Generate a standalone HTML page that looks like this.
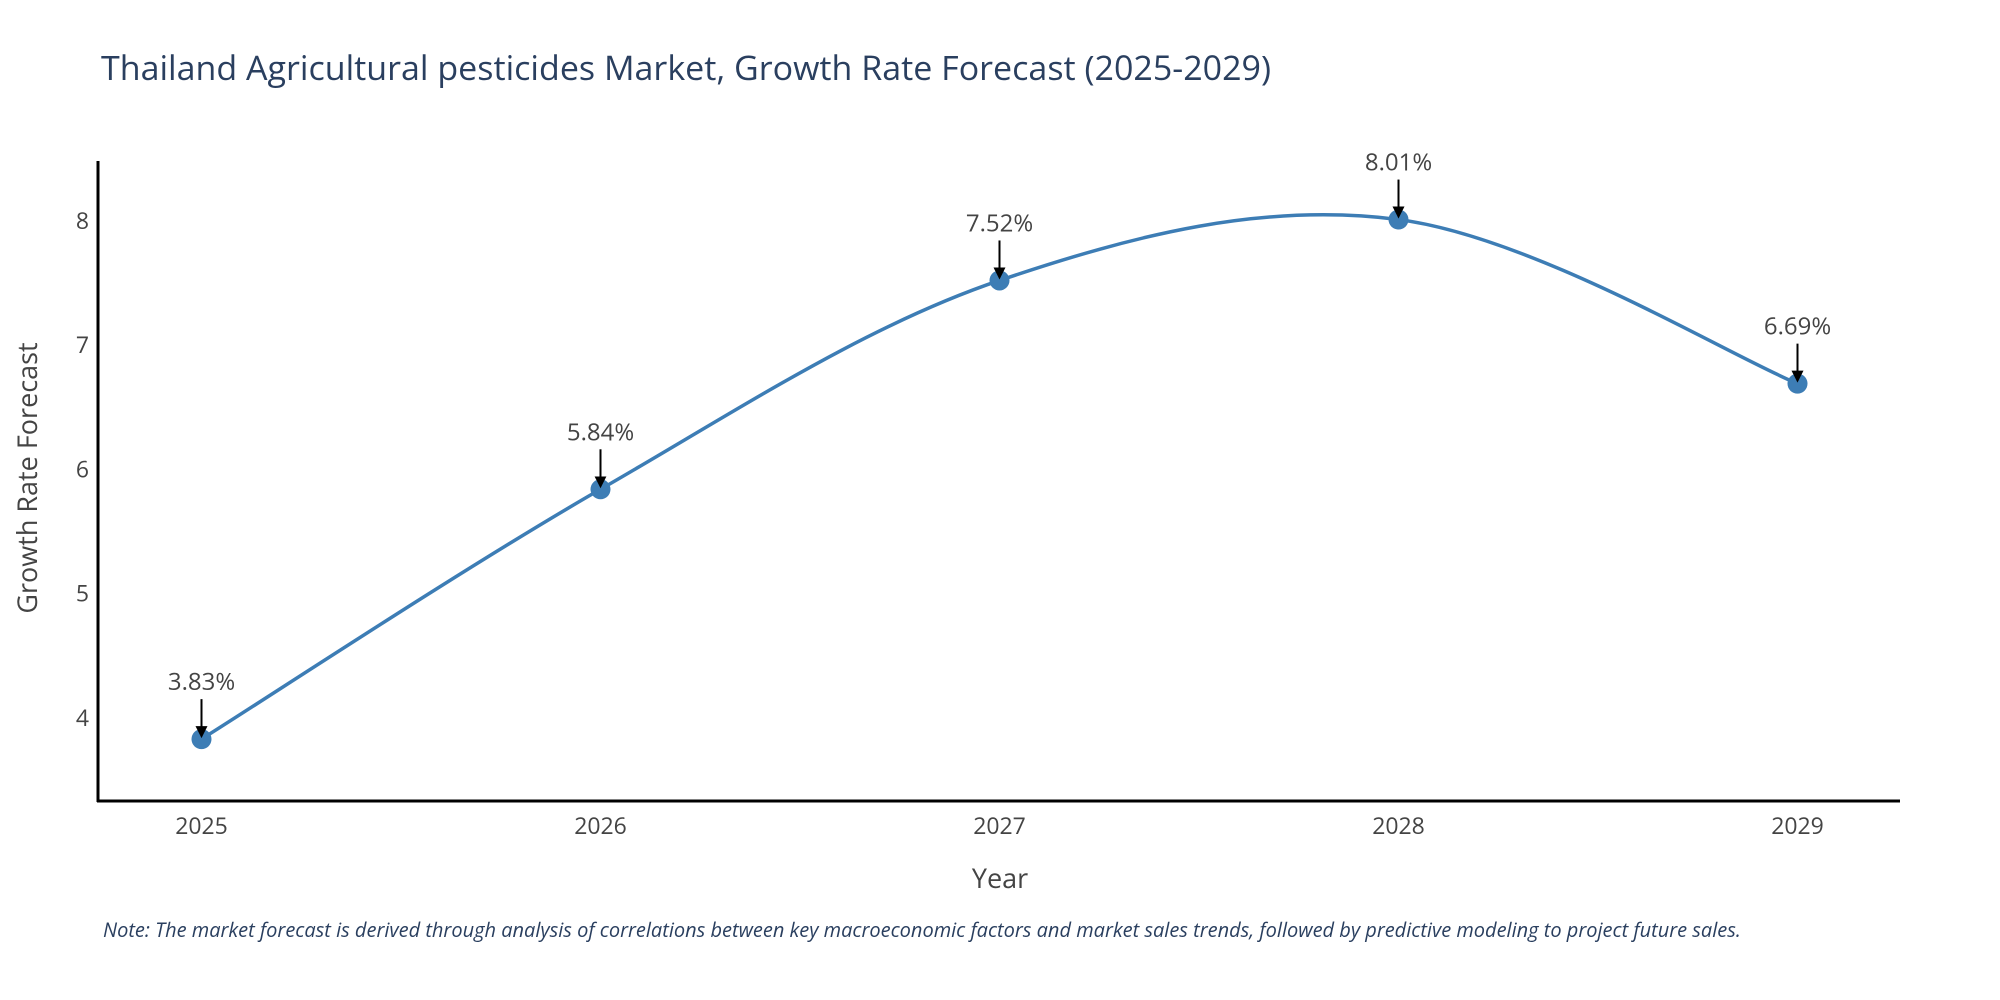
<!DOCTYPE html>
<html><head><meta charset="utf-8"><style>
body{margin:0;background:#fff;}
svg{display:block;font-family:"Open Sans","Liberation Sans",sans-serif;}
</style></head><body>
<svg id="chart" width="2000" height="1000" viewBox="0 0 2000 1000">
<text x="101" y="80" font-size="34" fill="#2a3f5f">Thailand Agricultural pesticides Market, Growth Rate Forecast (2025-2029)</text>
<g id="yticks"></g>
<g id="xticks"></g>
<line x1="98" y1="161" x2="98" y2="802" stroke="#000" stroke-width="3"/>
<line x1="97" y1="801" x2="1900" y2="801" stroke="#000" stroke-width="3"/>
<path id="line" fill="none" stroke="#3d7db5" stroke-width="3.5"/>
<g id="points"></g>
<g id="annots"></g>
<text x="1000" y="888" font-size="27" fill="#444" text-anchor="middle">Year</text>
<text transform="translate(37,478) rotate(-90)" font-size="27" fill="#444" text-anchor="middle">Growth Rate Forecast</text>
<text x="103" y="937" font-size="20" font-style="italic" fill="#2a3f5f">Note: The market forecast is derived through analysis of correlations between key macroeconomic factors and market sales trends, followed by predictive modeling to project future sales.</text>
<defs><marker id="ah" markerWidth="6" markerHeight="6" refX="5" refY="3" orient="auto" markerUnits="strokeWidth"><path d="M0,0 L6,3 L0,6 Z" fill="#000"/></marker></defs>
</svg>
<script>
const years = ["2025","2026","2027","2028","2029"];
const values = [3.83, 5.84, 7.52, 8.01, 6.69];
const labels = ["3.83%","5.84%","7.52%","8.01%","6.69%"];
const yTicks = [4,5,6,7,8];

const NS="http://www.w3.org/2000/svg";
const xs = i => 201.5 + i*399;
const ys = v => 718 - (v-4)*124.3;
function mk(tag, attrs, parent, txt){const e=document.createElementNS(NS,tag);for(const k in attrs)e.setAttribute(k,attrs[k]);if(txt!==undefined)e.textContent=txt;parent.appendChild(e);return e;}

const yt=document.getElementById('yticks');
yTicks.forEach(t=>{const e=mk('text',{x:89,y:ys(t)+8,'font-size':23,fill:'#444','text-anchor':'end'},yt,String(t));

});
const xt=document.getElementById('xticks');
years.forEach((y,i)=>{const e=mk('text',{x:xs(i),y:834,'font-size':23,fill:'#444','text-anchor':'middle'},xt,y);

});

const P=values.map((v,i)=>[xs(i),ys(v)]);
let d=`M${P[0][0]},${P[0][1]}`;
const s=0.17;
for(let i=0;i<P.length-1;i++){
 const p0=P[Math.max(0,i-1)],p1=P[i],p2=P[i+1],p3=P[Math.min(P.length-1,i+2)];
 const c1=[p1[0]+(p2[0]-p0[0])*s,p1[1]+(p2[1]-p0[1])*s];
 const c2=[p2[0]-(p3[0]-p1[0])*s,p2[1]-(p3[1]-p1[1])*s];
 d+=` C${c1[0]},${c1[1]} ${c2[0]},${c2[1]} ${p2[0]},${p2[1]}`;
}
document.getElementById('line').setAttribute('d',d);

const pts=document.getElementById('points');
const an=document.getElementById('annots');
values.forEach((v,i)=>{
 const c=mk('circle',{cx:xs(i),cy:ys(v),r:10,fill:'#3d7db5'},pts);
 
 
 const l=mk('line',{x1:xs(i),y1:ys(v)-40,x2:xs(i),y2:ys(v)-3,stroke:'#000','stroke-width':2,'marker-end':'url(#ah)'},an);
 
 
 const t=mk('text',{x:xs(i),y:ys(v)-49,'font-size':24,fill:'#444','text-anchor':'middle'},an,labels[i]);
 
 
});
</script>
</body></html>
